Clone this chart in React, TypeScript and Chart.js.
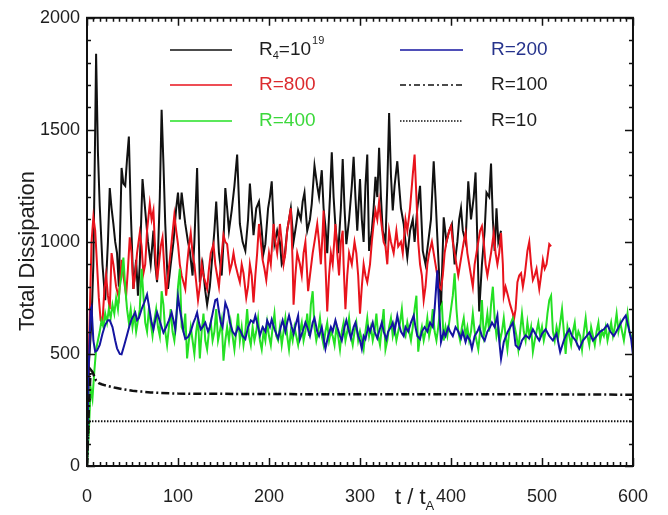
import React, { useEffect, useRef } from "react";
import { Chart, registerables } from "chart.js";
Chart.register(...registerables);

type P = [number, number];

const xMax = 600;
const yMax = 2000;
const xMajorStep = 100;
const yMajorStep = 500;
const xMinorPerMajor = 14;
const yMinorPerMajor = 5;

const seriesNames = ["R4=10^19", "R=800", "R=400", "R=200", "R=100", "R=10"];

const r4e19: P[] = [[0,0],[2,450],[5,650],[7,900],[9,1500],[10,1840],[12,1400],[14,1160],[17,900],[20,740],[23,1000],[25,1240],[27,1150],[29,1080],[31,1000],[33,950],[35,800],[38,1330],[40,1260],[42,1250],[44,1370],[46,1470],[48,1150],[51,790],[54,920],[56,760],[58,900],[61,1280],[64,1140],[67,1000],[70,900],[73,1050],[75,900],[77,820],[80,1200],[82,1590],[84,1350],[86,1080],[89,790],[92,900],[95,1000],[98,1150],[100,1220],[102,1100],[104,1220],[106,1150],[108,1080],[111,1000],[113,960],[116,850],[118,1000],[121,1330],[124,820],[127,900],[130,780],[132,720],[135,800],[137,900],[140,1050],[142,1180],[145,950],[148,850],[150,1000],[152,1240],[154,1150],[156,1050],[159,1140],[162,1250],[165,1390],[168,1080],[171,1000],[174,960],[177,1100],[179,1260],[181,1150],[183,1030],[186,1150],[189,1180],[192,1050],[194,950],[196,990],[199,1150],[201,1200],[203,1270],[206,990],[209,1050],[212,1000],[214,900],[217,930],[220,1050],[222,1100],[224,1150],[227,1000],[230,1080],[232,1140],[235,1100],[237,1180],[239,1220],[242,1050],[245,1100],[247,1170],[250,1340],[253,1250],[255,1200],[258,1320],[260,1150],[262,1070],[264,950],[267,1200],[269,1400],[271,1200],[273,1070],[276,950],[279,1150],[281,1370],[283,1150],[285,990],[288,1100],[291,1250],[293,1380],[295,1200],[297,1050],[300,1280],[302,1100],[304,1000],[306,1250],[308,1390],[310,960],[313,1050],[315,1150],[317,1290],[319,1200],[321,1420],[323,1200],[325,1050],[328,1000],[330,1250],[332,1575],[334,1300],[336,1140],[338,1250],[341,1360],[343,1250],[345,1150],[348,1080],[350,1000],[352,930],[355,1050],[358,1100],[360,1000],[363,1150],[366,1250],[369,960],[372,900],[375,1000],[378,1100],[381,1360],[383,1200],[385,1020],[387,850],[389,700],[392,1110],[395,1000],[398,1050],[401,1080],[404,900],[407,1000],[409,1100],[411,1150],[413,1050],[416,1000],[419,1270],[422,1100],[425,1200],[427,1310],[429,1000],[431,690],[434,900],[437,1050],[439,1220],[442,1200],[444,1350],[446,1100],[448,960],[450,1150],[452,1000],[455,1050]];

const r800: P[] = [[0,0],[2,500],[5,1000],[7,1110],[9,1050],[11,900],[13,750],[15,650],[17,640],[19,780],[21,850],[23,760],[25,700],[27,950],[29,900],[32,800],[35,750],[38,920],[40,850],[43,760],[45,880],[47,1020],[49,950],[51,790],[53,860],[55,950],[58,1040],[60,980],[62,860],[64,900],[66,1050],[69,1170],[71,1100],[73,1140],[75,950],[77,830],[79,900],[81,980],[83,1020],[85,880],[87,760],[89,850],[91,920],[93,1000],[96,1120],[98,1050],[100,990],[102,900],[104,850],[106,820],[108,790],[110,900],[112,980],[114,1040],[116,950],[118,900],[120,820],[122,740],[124,800],[126,900],[128,850],[130,820],[132,790],[134,880],[136,950],[139,990],[141,900],[143,850],[145,800],[147,900],[150,1030],[152,1000],[154,990],[157,870],[159,900],[161,950],[163,900],[166,850],[168,820],[170,900],[172,860],[175,750],[177,800],[179,900],[181,850],[183,730],[185,850],[187,950],[189,1080],[191,1000],[193,920],[195,880],[197,830],[200,950],[202,900],[205,1080],[207,1000],[209,950],[212,1080],[214,1000],[216,900],[218,950],[220,1050],[222,1100],[224,1150],[226,900],[227,720],[229,850],[231,950],[234,900],[236,850],[238,950],[240,1000],[243,780],[245,850],[248,950],[250,1000],[253,1080],[255,1000],[257,900],[259,1050],[260,1140],[262,900],[264,690],[266,850],[268,950],[270,900],[273,1080],[275,950],[277,850],[279,1000],[281,1050],[282,900],[284,700],[286,850],[288,950],[291,900],[294,1000],[296,950],[298,850],[300,680],[302,800],[304,900],[306,850],[308,820],[311,900],[313,1000],[315,1080],[317,1140],[319,1100],[321,1180],[323,1100],[326,1000],[328,980],[330,900],[332,1050],[334,1000],[337,950],[340,1050],[342,980],[345,1000],[347,950],[350,1100],[352,1050],[355,1150],[358,1300],[360,1390],[362,1200],[364,1000],[366,900],[368,850],[370,740],[372,800],[374,900],[376,950],[379,1000],[381,950],[383,900],[385,850],[387,800],[389,790],[391,850],[393,950],[395,1000],[398,1050],[400,1070],[402,1000],[404,950],[406,900],[408,850],[410,900],[412,950],[414,1000],[416,1040],[418,950],[420,900],[422,850],[424,800],[426,900],[428,950],[430,1000],[432,1050],[434,1070],[436,1000],[438,900],[440,850],[442,900],[444,950],[447,1040],[449,950],[451,900],[453,950],[455,1040],[457,900],[458,760],[460,800],[462,770],[465,720],[468,680],[469,650],[471,700],[473,820],[475,850],[477,860],[479,800],[481,850],[484,960],[486,1000],[488,900],[490,830],[492,850],[494,880],[497,790],[499,850],[501,920],[503,880],[505,900],[508,990],[510,980]];

const r400: P[] = [[0,0],[2,150],[4,350],[6,300],[8,420],[10,520],[12,560],[14,600],[16,650],[18,620],[20,680],[22,640],[24,700],[26,660],[28,720],[30,680],[32,750],[34,700],[36,800],[38,850],[40,930],[42,800],[44,700],[46,640],[48,700],[50,620],[52,680],[54,600],[56,650],[58,700],[60,880],[62,760],[64,640],[66,600],[68,700],[70,640],[72,580],[74,650],[76,700],[78,620],[80,580],[82,780],[84,720],[86,600],[88,540],[90,620],[92,700],[94,600],[96,560],[98,640],[100,800],[102,880],[104,620],[106,600],[108,680],[110,480],[112,560],[114,620],[116,560],[118,500],[120,600],[122,660],[124,480],[126,600],[128,680],[130,560],[132,520],[134,600],[136,640],[138,560],[140,600],[142,700],[144,560],[146,600],[148,650],[150,470],[152,560],[154,620],[156,560],[158,640],[160,580],[162,520],[164,600],[166,680],[168,560],[170,620],[172,540],[174,600],[176,700],[178,580],[180,540],[182,620],[184,560],[186,600],[188,660],[190,560],[192,520],[194,600],[196,560],[198,640],[200,580],[202,540],[204,620],[206,680],[208,580],[210,560],[212,620],[214,540],[216,600],[218,660],[220,580],[222,520],[224,600],[226,560],[228,620],[230,580],[232,540],[234,600],[236,640],[238,560],[240,600],[242,680],[244,580],[246,720],[248,780],[250,620],[252,560],[254,600],[256,660],[258,580],[260,540],[262,600],[264,640],[266,560],[268,600],[270,580],[272,540],[274,620],[276,580],[278,520],[280,600],[282,640],[284,560],[286,600],[288,660],[290,580],[292,540],[294,600],[296,640],[298,560],[300,600],[302,560],[304,520],[306,600],[308,660],[310,580],[312,620],[314,560],[316,600],[318,680],[320,580],[322,540],[324,620],[326,700],[328,520],[330,560],[332,620],[334,660],[336,580],[338,620],[340,560],[342,600],[344,640],[346,700],[348,600],[350,580],[352,640],[354,600],[356,560],[358,620],[360,700],[362,760],[364,510],[366,580],[368,620],[370,560],[372,600],[374,660],[376,580],[378,620],[380,700],[382,600],[384,560],[386,620],[388,700],[390,720],[392,560],[394,620],[396,580],[398,640],[400,700],[402,760],[404,860],[406,700],[408,600],[410,560],[412,620],[414,660],[416,580],[418,620],[420,560],[422,600],[424,680],[426,600],[428,560],[430,520],[432,600],[434,740],[436,580],[438,620],[440,680],[442,600],[444,720],[446,800],[448,660],[450,580],[452,620],[454,560],[456,600],[458,660],[460,580],[462,520],[464,600],[466,640],[468,660],[470,620],[472,580],[474,520],[476,600],[478,680],[480,600],[482,560],[484,640],[486,580],[488,620],[490,510],[492,560],[494,600],[496,640],[498,580],[500,620],[502,560],[504,600],[506,680],[508,740],[510,760],[512,600],[514,560],[516,620],[518,580],[520,640],[522,700],[524,600],[526,500],[528,620],[530,580],[532,540],[534,600],[536,640],[538,560],[540,600],[542,580],[544,520],[546,600],[548,660],[550,580],[552,540],[554,620],[556,580],[558,540],[560,600],[562,640],[564,560],[566,600],[568,580],[570,620],[572,560],[574,600],[576,640],[578,580],[580,620],[582,680],[584,600],[586,640],[588,600],[590,560],[592,620],[594,680],[596,600],[598,580],[600,560]];

const r200: P[] = [[0,0],[2,450],[4,700],[5,710],[7,560],[9,510],[11,515],[14,540],[17,590],[20,630],[23,650],[25,650],[28,620],[31,560],[33,525],[36,500],[38,498],[41,540],[44,585],[47,630],[49,655],[51,670],[53,685],[55,650],[57,660],[60,700],[63,730],[66,765],[69,690],[71,640],[73,610],[75,650],[77,685],[79,660],[82,620],[84,595],[87,620],[90,650],[93,685],[95,650],[97,610],[100,757],[102,700],[104,655],[106,600],[108,567],[111,575],[114,600],[117,640],[119,660],[121,685],[123,640],[125,610],[127,620],[130,640],[133,600],[135,620],[137,660],[139,700],[141,740],[143,745],[145,690],[147,640],[149,620],[152,728],[155,695],[157,640],[160,600],[163,583],[166,620],[169,600],[171,580],[174,566],[177,620],[180,650],[183,640],[185,671],[188,620],[190,583],[193,620],[196,600],[198,650],[201,620],[203,654],[206,610],[208,590],[210,570],[213,620],[215,650],[218,600],[220,640],[222,671],[225,620],[227,590],[230,640],[232,671],[234,566],[237,600],[240,640],[242,620],[245,580],[248,640],[250,660],[253,600],[255,580],[258,620],[260,570],[262,523],[265,580],[268,620],[270,600],[273,650],[275,620],[278,580],[280,560],[283,620],[285,650],[288,600],[290,570],[293,620],[295,640],[298,580],[300,560],[302,523],[304,580],[306,566],[309,620],[311,600],[314,640],[316,600],[319,570],[321,600],[324,640],[326,600],[329,566],[331,600],[334,620],[336,640],[338,600],[341,671],[343,630],[345,600],[348,580],[350,620],[353,600],[356,640],[359,671],[361,620],[363,580],[366,566],[368,600],[371,620],[374,600],[377,640],[380,620],[382,700],[385,873],[387,700],[389,553],[392,600],[394,580],[397,620],[399,600],[402,580],[405,620],[408,600],[411,570],[413,600],[416,553],[418,580],[421,560],[423,523],[426,580],[429,600],[431,620],[434,580],[437,560],[440,600],[443,620],[445,640],[448,620],[451,671],[453,560],[455,478],[458,553],[462,596],[466,627],[468,640],[471,539],[475,523],[478,560],[482,583],[486,570],[490,610],[494,580],[497,560],[500,590],[504,610],[508,580],[512,560],[516,590],[520,509],[524,560],[527,590],[530,610],[533,580],[537,560],[541,523],[545,560],[549,580],[552,596],[556,560],[560,580],[564,600],[568,610],[572,630],[575,600],[579,580],[583,610],[587,640],[590,660],[592,671],[595,620],[598,566],[600,496]];

const r100: P[] = [[0,0],[2,250],[4,430],[6,420],[8,400],[10,380],[13,370],[16,365],[20,360],[25,355],[30,350],[40,342],[50,336],[60,332],[70,328],[80,326],[100,323],[150,322],[200,321],[300,320],[400,320],[500,320],[600,318]];

const r10: P[] = [[0,0],[2,200],[600,200]];

const FONT = "'Liberation Sans', Arial, Helvetica, sans-serif";
const INK = "#1e1e1e";

const colors = {
  black: "#111111",
  red: "#e8131c",
  green: "#24e024",
  blue: "#1414a0",
};

const legendPlugin = {
  id: "customDecor",
  afterDatasetsDraw(chart: any) {
    const { ctx, chartArea: a, scales } = chart;
    const xs = scales.x;
    const ys = scales.y;
    ctx.save();
    ctx.strokeStyle = "#111";
    ctx.lineWidth = 2;
    ctx.setLineDash([]);
    ctx.strokeRect(a.left, a.top, a.right - a.left, a.bottom - a.top);
    ctx.lineWidth = 1.5;
    const yMinor = yMajorStep / yMinorPerMajor;
    for (let i = 0; i <= yMax / yMinor; i++) {
      const v = i * yMinor;
      const py = Math.round(ys.getPixelForValue(v)) + 0.5;
      const len = i % yMinorPerMajor === 0 ? 8 : 4;
      ctx.beginPath();
      ctx.moveTo(a.left, py); ctx.lineTo(a.left + len, py);
      ctx.moveTo(a.right, py); ctx.lineTo(a.right - len, py);
      ctx.stroke();
    }
    const xMinor = xMajorStep / xMinorPerMajor;
    const nX = Math.round(xMax / xMinor);
    for (let i = 0; i <= nX; i++) {
      const v = i * xMinor;
      const px = Math.round(xs.getPixelForValue(v)) + 0.5;
      const len = i % xMinorPerMajor === 0 ? 8 : 4;
      ctx.beginPath();
      ctx.moveTo(px, a.bottom); ctx.lineTo(px, a.bottom - len);
      ctx.moveTo(px, a.top); ctx.lineTo(px, a.top + len);
      ctx.stroke();
    }

    ctx.fillStyle = INK;
    ctx.textBaseline = "alphabetic";
    ctx.font = `22px ${FONT}`;
    ctx.save();
    ctx.translate(34, 251);
    ctx.rotate(-Math.PI / 2);
    ctx.textAlign = "center";
    ctx.fillText("Total Dissipation", 0, 0);
    ctx.restore();
    ctx.textAlign = "left";
    ctx.font = `22px ${FONT}`;
    ctx.fillText("t / t", 395, 504);
    const w = ctx.measureText("t / t").width;
    ctx.font = `13px ${FONT}`;
    ctx.fillText("A", 395 + w, 510);

    const rows = [50, 85, 121];
    const drawSample = (x0: number, x1: number, y: number, color: string, dash: number[]) => {
      ctx.save();
      ctx.strokeStyle = color;
      ctx.lineWidth = 1.5;
      ctx.setLineDash(dash);
      ctx.beginPath();
      ctx.moveTo(x0, y); ctx.lineTo(x1, y);
      ctx.stroke();
      ctx.restore();
    };
    ctx.textBaseline = "middle";
    ctx.textAlign = "left";
    const tf = `19px ${FONT}`;
    const sf = `11px ${FONT}`;
    drawSample(170, 232, rows[0], colors.black, []);
    drawSample(170, 232, rows[1], colors.red, []);
    drawSample(170, 232, rows[2], colors.green, []);
    let tx = 259;
    ctx.fillStyle = INK;
    ctx.font = tf;
    ctx.fillText("R", tx, rows[0]);
    tx += ctx.measureText("R").width;
    ctx.font = sf;
    ctx.fillText("4", tx, rows[0] + 6);
    tx += ctx.measureText("4").width;
    ctx.font = tf;
    ctx.fillText("=10", tx, rows[0]);
    tx += ctx.measureText("=10").width + 1;
    ctx.font = sf;
    ctx.fillText("19", tx, rows[0] - 9);
    ctx.font = tf;
    ctx.fillStyle = "#dc2a2e";
    ctx.fillText(seriesNames[1], 259, rows[1]);
    ctx.fillStyle = "#3cd83c";
    ctx.fillText(seriesNames[2], 259, rows[2]);
    drawSample(400, 463, rows[0], colors.blue, []);
    drawSample(400, 463, rows[1], colors.black, [6, 3, 2, 3]);
    drawSample(400, 463, rows[2], colors.black, [1.5, 1.5]);
    ctx.fillStyle = "#26338c";
    ctx.fillText(seriesNames[3], 491, rows[0]);
    ctx.fillStyle = INK;
    ctx.fillText(seriesNames[4], 491, rows[1]);
    ctx.fillText(seriesNames[5], 491, rows[2]);
    ctx.restore();
  },
};

const toXY = (arr: P[]) => arr.map(([x, y]) => ({ x, y }));

export default function App() {
  const ref = useRef<HTMLCanvasElement | null>(null);
  useEffect(() => {
    if (!ref.current) return;
    const base = {
      pointRadius: 0,
      borderWidth: 2,
      tension: 0,
      fill: false,
    };
    const chart = new Chart(ref.current, {
      type: "line",
      data: {
        datasets: [
          { ...base, label: seriesNames[0], data: toXY(r4e19), borderColor: colors.black, order: 6 },
          { ...base, label: seriesNames[1], data: toXY(r800), borderColor: colors.red, order: 5 },
          { ...base, label: seriesNames[2], data: toXY(r400), borderColor: colors.green, order: 4 },
          { ...base, label: seriesNames[3], data: toXY(r200), borderColor: colors.blue, order: 3 },
          { ...base, label: seriesNames[4], data: toXY(r100), borderColor: colors.black, borderWidth: 2.5, borderDash: [8, 3, 2, 3], order: 2 },
          { ...base, label: seriesNames[5], data: toXY(r10), borderColor: colors.black, borderWidth: 2, borderDash: [1.5, 1.5], order: 1 },
        ],
      },
      options: {
        animation: false,
        responsive: false,
        maintainAspectRatio: false,
        layout: { padding: { left: 0, right: 35, top: 10, bottom: 0 } },
        plugins: {
          legend: { display: false },
          tooltip: { enabled: false },
          title: { display: false },
        },
        scales: {
          x: {
            type: "linear",
            min: 0,
            max: xMax,
            grid: { display: false, drawTicks: false },
            border: { display: false },
            ticks: {
              stepSize: xMajorStep,
              font: { family: FONT, size: 18 },
              color: INK,
              padding: 20,
              maxRotation: 0,
              callback: (v: any) => String(v),
            },
            afterFit: (s: any) => { s.height = 49; },
          },
          y: {
            type: "linear",
            min: 0,
            max: yMax,
            grid: { display: false, drawTicks: false },
            border: { display: false },
            ticks: {
              stepSize: yMajorStep,
              font: { family: FONT, size: 18 },
              color: INK,
              padding: 7,
              callback: (v: any) => String(v),
            },
            afterFit: (s: any) => { s.width = 87; },
          },
        },
      },
      plugins: [legendPlugin],
    });
    return () => chart.destroy();
  }, []);
  return (
    <div style={{ position: "fixed", left: 0, top: 0, width: 668, height: 515, background: "#fff" }}>
      <canvas ref={ref} width={668} height={515} style={{ width: 668, height: 515 }} />
    </div>
  );
}
